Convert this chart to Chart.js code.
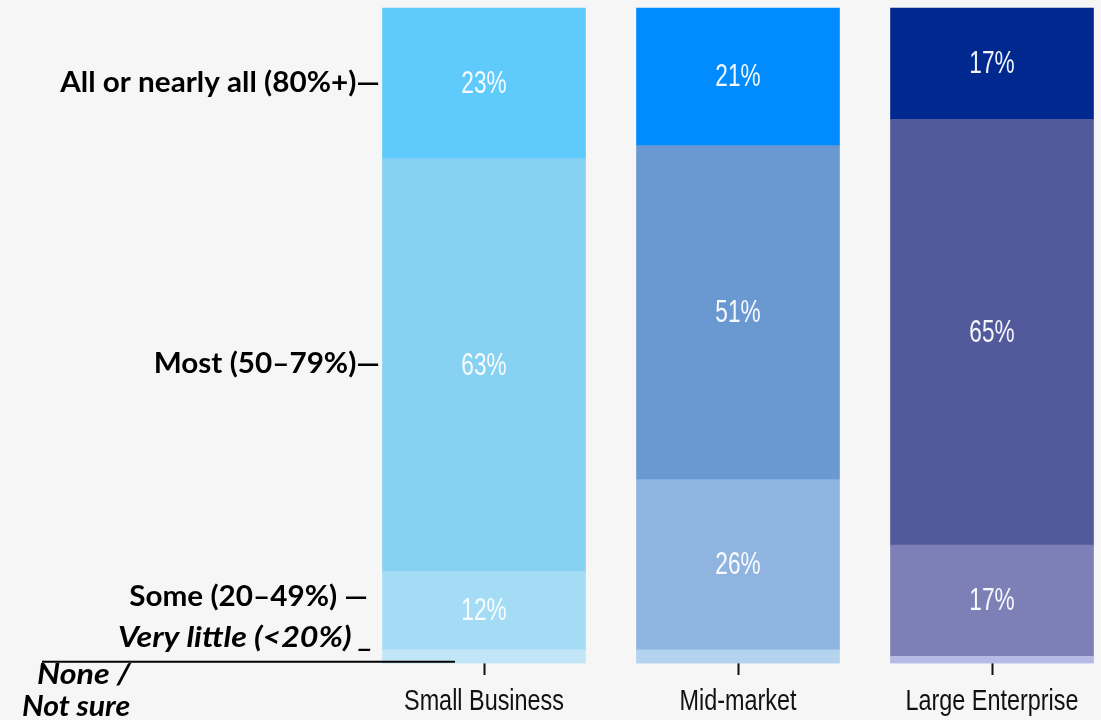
<!DOCTYPE html>
<html>
<head>
<meta charset="utf-8">
<script src="https://cdn.jsdelivr.net/npm/chart.js@4/dist/chart.umd.min.js"></script>
<style>
  html, body { margin: 0; padding: 0; background: #f6f6f6; overflow: hidden; }
  #wrap { width: 1101px; height: 720px; position: relative; }
</style>
</head>
<body>
<div id="wrap"><canvas id="c" width="1101" height="720"></canvas></div>
<script>
// Company size groups
const categories = ['Small Business', 'Mid-market', 'Large Enterprise'];

// Share of respondents per answer band (%), stacked bottom to top
const noneNotSure = [0, 0, 0];
const veryLittle  = [2, 2, 1];
const some        = [12, 26, 17];
const most        = [63, 51, 65];
const allOrNearly = [23, 21, 17];

// Band names shown on the left
const bandLabels = ['None /\nNot sure', 'Very little (<20%)', 'Some (20–49%)', 'Most (50–79%)', 'All or nearly all (80%+)'];

// Colour ramp per company size (bottom band → top band)
const palette = [
  ['#c0e6f8', '#c0e6f8', '#a4dbf5', '#87d1f2', '#5fcbfd'],
  ['#b4d3ef', '#b4d3ef', '#8fb4e0', '#6a99d2', '#008bfe'],
  ['#b5bbe4', '#b5bbe4', '#7d80b7', '#525a9b', '#00288e']
];

const series = [noneNotSure, veryLittle, some, most, allOrNearly];

const datasets = series.map((vals, i) => ({
  label: bandLabels[i],
  data: vals,
  backgroundColor: palette.map(p => p[i]),
  borderWidth: 0,
  barThickness: 203,
  clip: false
}));

// Draw text squeezed or stretched horizontally
function condensedText(ctx, text, x, y, sx) {
  ctx.save();
  ctx.translate(x, y);
  ctx.scale(sx, 1);
  ctx.fillText(text, 0, 0);
  ctx.restore();
}

// White value labels centred in the larger segments, and category names under the ticks
const valueLabels = {
  id: 'valueLabels',
  afterDatasetsDraw(chart) {
    const ctx = chart.ctx;
    ctx.save();
    ctx.fillStyle = 'rgba(255,255,255,0.95)';
    ctx.font = '31px "Liberation Sans", Arial, sans-serif';
    ctx.textAlign = 'center';
    ctx.textBaseline = 'middle';
    chart.data.datasets.forEach((ds, di) => {
      chart.getDatasetMeta(di).data.forEach((bar, i) => {
        const v = ds.data[i];
        if (v < 5) return;
        const c = bar.getCenterPoint();
        condensedText(ctx, v + '%', c.x, c.y + 1, 0.73);
      });
    });
    const x = chart.scales.x;
    ctx.fillStyle = '#111';
    ctx.font = '30px "Liberation Sans", Arial, sans-serif';
    categories.forEach((name, i) => {
      condensedText(ctx, name, x.getPixelForTick(i), chart.chartArea.bottom + 39, 0.78);
    });
    ctx.restore();
  }
};

// Band names in the left margin, plus the baseline rule under them
const bandNotes = {
  id: 'bandNotes',
  afterDraw(chart) {
    const ctx = chart.ctx;
    const y = chart.scales.y;
    ctx.save();
    ctx.fillStyle = '#000';
    ctx.textBaseline = 'middle';
    const bold = 'bold 28px Lato, "Open Sans", sans-serif';
    const ital = 'italic bold 28px Lato, "Open Sans", sans-serif';

    ctx.textAlign = 'right';
    ctx.font = bold;
    condensedText(ctx, bandLabels[4] + '—', 380, y.getPixelForValue(88.6), 1.06);
    condensedText(ctx, bandLabels[3] + '—', 380, y.getPixelForValue(45.6), 1.06);
    condensedText(ctx, bandLabels[2] + ' —', 368, y.getPixelForValue(10.1), 1.06);
    ctx.font = ital;
    condensedText(ctx, bandLabels[1] + ' _', 373, y.getPixelForValue(3.8), 1.15);

    ctx.textAlign = 'left';
    const lines = bandLabels[0].split('\n');
    condensedText(ctx, lines[0], 37, y.getPixelForValue(-1.8), 1.15);
    condensedText(ctx, lines[1], 22, y.getPixelForValue(-6.7), 1.08);

    ctx.strokeStyle = '#000';
    ctx.lineWidth = 2;
    ctx.beginPath();
    const ly = y.getPixelForValue(0.2);
    ctx.moveTo(42, ly);
    ctx.lineTo(455, ly);
    ctx.stroke();
    ctx.restore();
  }
};

new Chart(document.getElementById('c'), {
  type: 'bar',
  data: { labels: categories, datasets },
  options: {
    responsive: false,
    animation: false,
    layout: { padding: { left: 484, right: 109, top: 8, bottom: 0 } },
    plugins: { legend: { display: false }, tooltip: { enabled: false } },
    scales: {
      x: {
        stacked: true,
        offset: false,
        border: { display: false },
        grid: {
          offset: false,
          drawOnChartArea: false,
          drawTicks: true,
          tickLength: 12,
          tickWidth: 2,
          color: '#111'
        },
        ticks: {
          color: 'rgba(0,0,0,0)',
          padding: 6,
          maxRotation: 0,
          autoSkip: false,
          font: { family: '"Liberation Sans", sans-serif', size: 20 }
        },
        afterFit(scale) { scale.height = 57; }
      },
      y: {
        stacked: true,
        display: false,
        min: 0,
        max: 100
      }
    }
  },
  plugins: [valueLabels, bandNotes]
});
</script>
</body>
</html>
